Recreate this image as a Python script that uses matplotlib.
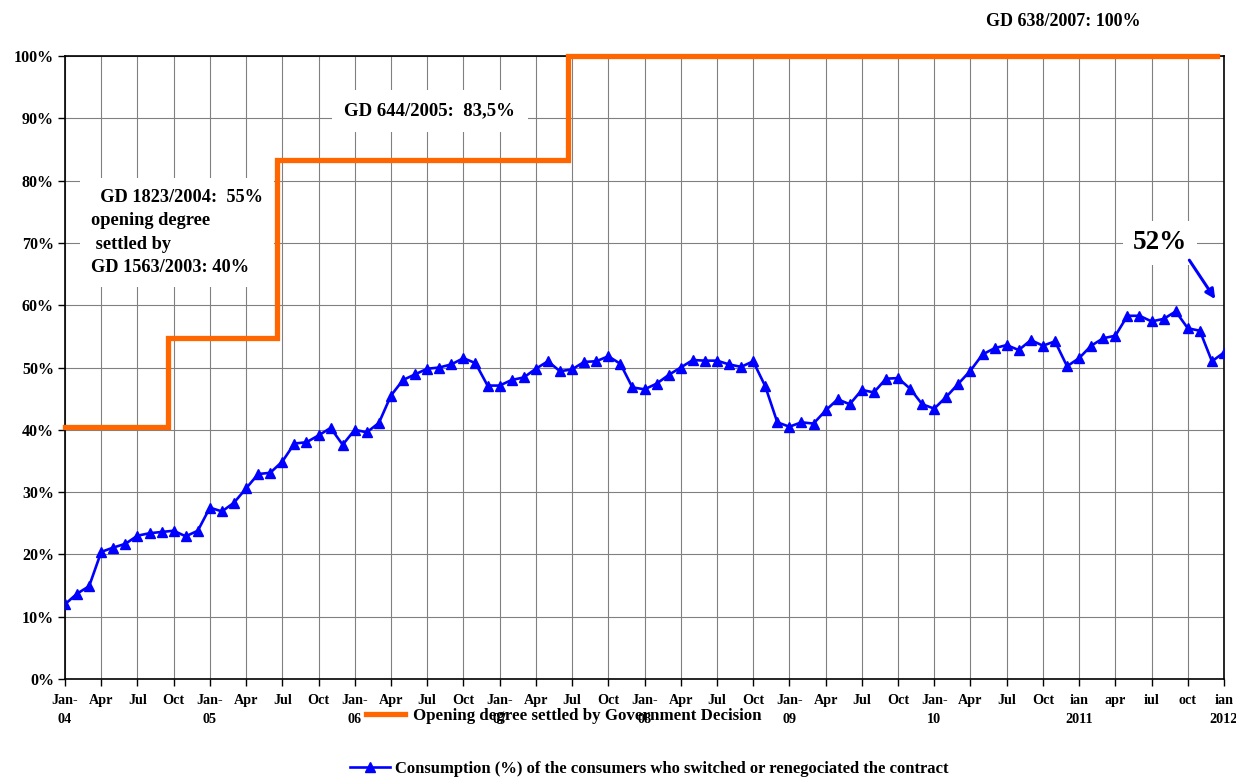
import numpy as np
import matplotlib
matplotlib.use("Agg")
import matplotlib.pyplot as plt

plt.rcParams['font.family'] = ['Liberation Serif', 'DejaVu Serif']
plt.rcParams['font.weight'] = 'bold'

# monthly share of consumption, Jan 2004 .. Jan 2012
consumption = [12.0, 13.7, 14.9, 20.4, 21.1, 21.7, 23.0, 23.4, 23.6, 23.8, 22.9, 23.8,
               27.5, 26.9, 28.3, 30.6, 32.9, 33.1, 34.9, 37.8, 38.0, 39.1, 40.3, 37.6,
               40.0, 39.6, 41.1, 45.5, 48.0, 48.9, 49.8, 50.0, 50.5, 51.5, 50.7, 47.1,
               47.1, 48.0, 48.4, 49.8, 51.0, 49.4, 49.7, 50.9, 51.0, 51.8, 50.6, 46.8,
               46.5, 47.4, 48.8, 50.0, 51.2, 51.1, 51.1, 50.5, 50.1, 51.0, 47.0, 41.2,
               40.5, 41.2, 41.0, 43.1, 44.9, 44.1, 46.4, 46.0, 48.2, 48.3, 46.6, 44.1,
               43.4, 45.3, 47.4, 49.5, 52.1, 53.1, 53.6, 52.8, 54.4, 53.5, 54.2, 50.2,
               51.5, 53.5, 54.7, 55.1, 58.3, 58.3, 57.4, 57.8, 59.0, 56.3, 55.9, 51.0,
               52.4]
months = np.arange(len(consumption))

# opening degree steps (month index where the level starts)
step_start = [0, 8.5, 17.6, 41.7]
step_level = [40.5, 54.8, 83.3, 100]
step_end = 95.4

tick_pos = np.arange(0, 97, 3)
tick_labels = ['Jan-\n04', 'Apr', 'Jul', 'Oct', 'Jan-\n05', 'Apr', 'Jul', 'Oct',
               'Jan-\n06', 'Apr', 'Jul', 'Oct', 'Jan-\n07', 'Apr', 'Jul', 'Oct',
               'Jan-\n08', 'Apr', 'Jul', 'Oct', 'Jan-\n09', 'Apr', 'Jul', 'Oct',
               'Jan-\n10', 'Apr', 'Jul', 'Oct', 'ian\n2011', 'apr', 'iul', 'oct',
               'ian\n2012']

fig = plt.figure(figsize=(12.36, 7.78), dpi=100)
ax = fig.add_axes([65/1236, 1-679/778, (1224-65)/1236, (679-56)/778])

orange, = ax.step(step_start + [step_end], step_level + [step_level[-1]], where='post',
                  color='#FF6600', lw=3.8, solid_joinstyle='miter', clip_on=False, zorder=3,
                  label='Opening degree settled by Government Decision')
blue, = ax.plot(months, consumption, color='#0000FF', lw=1.9, marker='^', markersize=7.5,
                zorder=4,
                label='Consumption (%) of the consumers who switched or renegociated the contract')

ax.set_xlim(0, 96)
ax.set_ylim(0, 100)
ax.set_yticks(np.arange(0, 101, 10))
ax.set_yticklabels(['%d%%' % v for v in range(0, 101, 10)], fontsize=11.5, fontweight='bold')
ax.set_xticks(tick_pos)
ax.set_xticklabels(tick_labels, fontsize=10.2, fontweight='bold', linespacing=1.6)
ax.tick_params(direction='out', length=5, width=1, color='black')
ax.tick_params(axis='x', pad=5.5)
ax.tick_params(axis='y', pad=3)
ax.grid(True, color='#808080', lw=0.8)
ax.set_axisbelow(True)
for s in ax.spines.values():
    s.set_linewidth(1.2)

# annotations with white boxes
ax.text(30.2, 91.2, 'GD 644/2005:  83,5%', ha='center', va='center', fontsize=13.5,
        fontweight='bold', zorder=2,
        bbox=dict(facecolor='white', edgecolor='none', pad=9))
ax.text(2.15, 78.7, '  GD 1823/2004:  55%\nopening degree\n settled by\nGD 1563/2003: 40%',
        ha='left', va='top', fontsize=13.2, fontweight='bold', linespacing=1.5, zorder=2,
        bbox=dict(facecolor='white', edgecolor='none', pad=8))
ax.text(90.7, 70.0, '52%', ha='center', va='center', fontsize=19.5, fontweight='bold',
        zorder=2, bbox=dict(facecolor='white', edgecolor='none', pad=7))
ax.annotate('', xy=(95.4, 60.6), xytext=(93.0, 67.6),
            arrowprops=dict(arrowstyle='-|>', color='#0000FF', lw=2.2, mutation_scale=14),
            zorder=5)
fig.text(1063/1236, 1-21/778, 'GD 638/2007: 100%', ha='center', va='center',
         fontsize=13, fontweight='bold')

# legend entries placed like the original
fig.legend(handles=[orange], loc='center left', bbox_to_anchor=(366/1236, 1-716/778),
           frameon=False, fontsize=12.2, handlelength=2.3, handletextpad=0.5,
           borderpad=0, borderaxespad=0)
fig.legend(handles=[blue], loc='center left', bbox_to_anchor=(350/1236, 1-769/778),
           frameon=False, fontsize=12.0, handlelength=2.4, handletextpad=0.3,
           borderpad=0, borderaxespad=0)

fig.savefig('out.png', dpi=100)
